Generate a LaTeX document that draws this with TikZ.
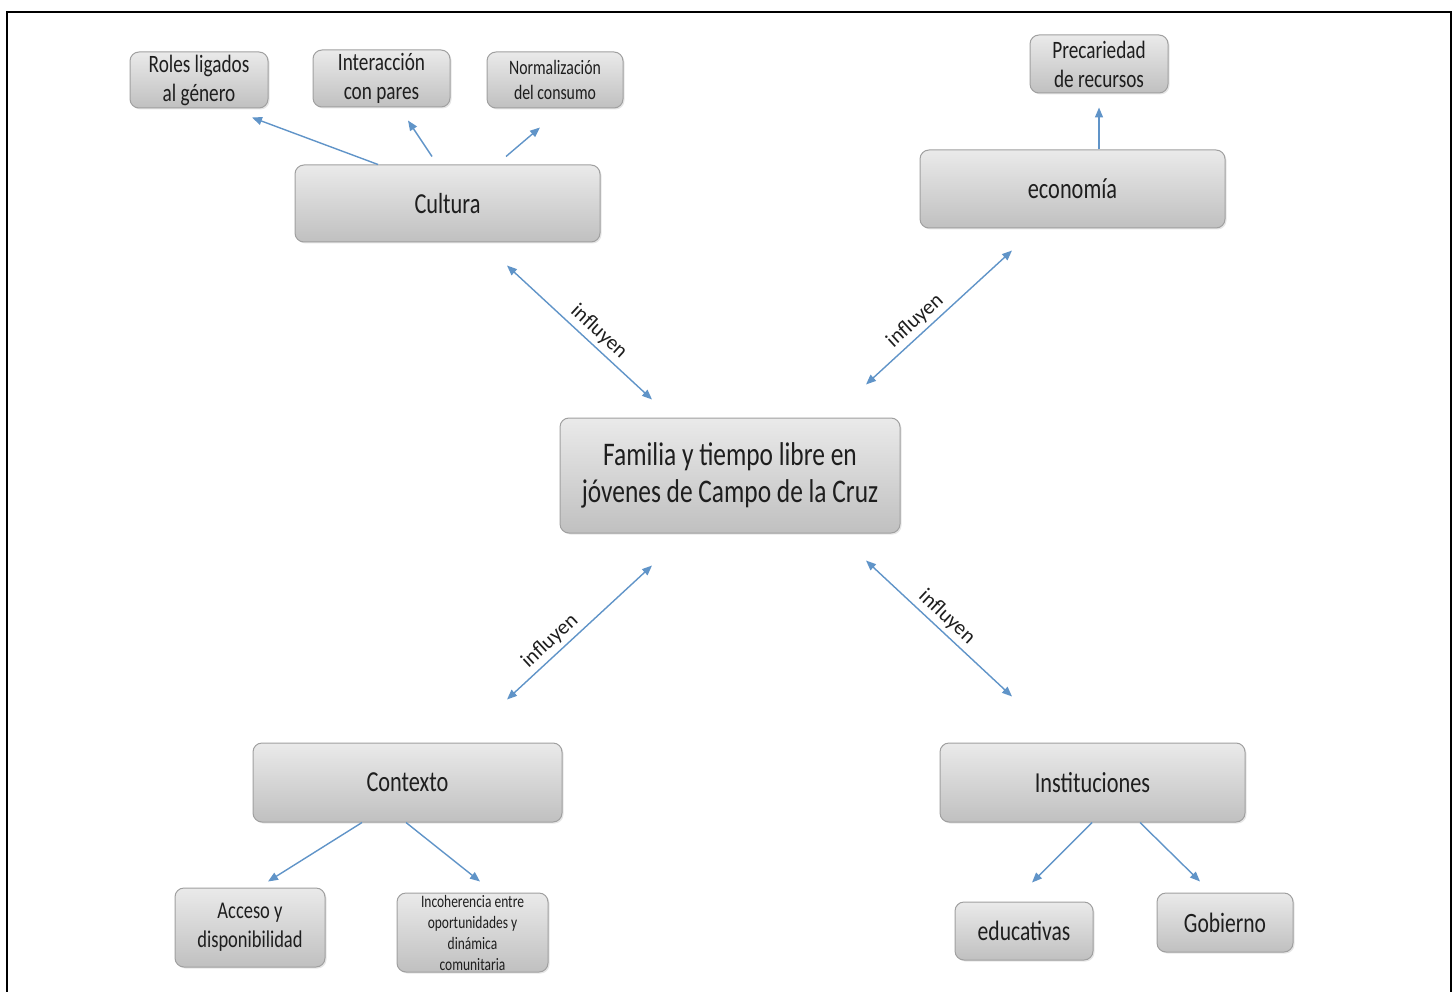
\documentclass[tikz,border=0pt]{standalone}
\usepackage{fontspec}
\setmainfont{Carlito}
\newfontfamily\cf[FakeStretch=0.77]{Carlito}
\usetikzlibrary{arrows.meta,shadows}
\definecolor{arrowblue}{RGB}{96,148,200}
\definecolor{boxborder}{RGB}{160,160,160}
\definecolor{boxtop}{RGB}{234,234,234}
\definecolor{boxbot}{RGB}{192,192,192}
\definecolor{txt}{RGB}{30,30,30}
\begin{document}
\begin{tikzpicture}[x=1pt,y=-1pt,
  box/.style={draw=boxborder, line width=1pt, rounded corners=9pt,
    top color=boxtop, bottom color=boxbot, inner sep=0pt, align=center,
    text=txt, drop shadow={shadow xshift=1.5pt, shadow yshift=-1.5pt, opacity=0.2}},
  fbig/.style={font=\cf\fontsize{29}{34}\selectfont},
  fmain/.style={font=\cf\fontsize{33}{37}\selectfont},
  fsmall/.style={font=\cf\fontsize{25}{29}\selectfont},
  arr/.style={draw=arrowblue, line width=1.4pt, -{Triangle[length=10pt,width=8pt]}},
  darr/.style={draw=arrowblue, line width=1.4pt, {Triangle[length=10pt,width=8pt]}-{Triangle[length=10pt,width=8pt]}},
  lab/.style={font=\fontsize{21}{24}\selectfont, text=txt, sloped, above, inner sep=4pt}
]
\useasboundingbox (0,0) rectangle (1455,992);
\draw[line width=2pt] (7,992) -- (7,12) -- (1451,12) -- (1451,992);

% main nodes
\node[box, fmain, minimum width=340pt, minimum height=115pt] (main) at (730,475.5)
  {Familia y tiempo libre en\\jóvenes de Campo de la Cruz};
\node[box, fbig, minimum width=305pt, minimum height=77pt] (cultura) at (447.5,203.5) {Cultura};
\node[box, fbig, minimum width=305pt, minimum height=78pt] (economia) at (1072.5,189) {economía};
\node[box, fbig, minimum width=309pt, minimum height=79pt] (contexto) at (407.5,782.5) {Contexto};
\node[box, fbig, minimum width=305pt, minimum height=79pt] (instit) at (1092.5,782.5) {Instituciones};

% small nodes
\node[box, fsmall, minimum width=138pt, minimum height=56pt] (roles) at (199,80) {Roles ligados\\al género};
\node[box, fsmall, minimum width=137pt, minimum height=57pt] (inter) at (381.5,78.5) {Interacción\\con pares};
\node[box, font=\cf\fontsize{20.5}{25}\selectfont, minimum width=136pt, minimum height=56pt] (norm) at (555,80) {Normalización\\del consumo};
\node[box, fsmall, minimum width=138pt, minimum height=58pt] (prec) at (1099,64) {Precariedad\\de recursos};
\node[box, font=\cf\fontsize{24}{29}\selectfont, minimum width=150pt, minimum height=79pt] (acceso) at (250,927.5) {Acceso y\\disponibilidad};
\node[box, font=\cf\fontsize{17.5}{21}\selectfont, minimum width=151pt, minimum height=79pt] (incoh) at (472.5,932.5) {Incoherencia entre\\oportunidades y\\dinámica\\comunitaria};
\node[box, font=\cf\fontsize{28}{32}\selectfont, minimum width=138pt, minimum height=58pt] (educ) at (1024,931) {educativas};
\node[box, font=\cf\fontsize{28}{32}\selectfont, minimum width=136pt, minimum height=59pt] (gob) at (1225,922.5) {Gobierno};

% main connectors
\draw[darr] ([shift={(59.5,23)}]cultura.south) -- ([shift={(-78,-18)}]main.north)
  node[lab, pos=0.57] {influyen};
\draw[darr] ([shift={(136,-33)}]main.north) -- ([shift={(-60.5,22)}]economia.south)
  node[lab, pos=0.4] {influyen};
\draw[darr] ([shift={(99.5,-43)}]contexto.north) -- ([shift={(-78,32)}]main.south)
  node[lab, pos=0.36] {influyen};
\draw[darr] ([shift={(136,27)}]main.south) -- ([shift={(-80.5,-46)}]instit.north)
  node[lab, pos=0.49] {influyen};

% sub connectors
\draw[arr] ([shift={(-69.5,0)}]cultura.north) -- ([shift={(53,9)}]roles.south);
\draw[arr] ([shift={(-15.5,-8)}]cultura.north) -- ([shift={(26.5,13)}]inter.south);
\draw[arr] ([shift={(58.5,-8)}]cultura.north) -- ([shift={(-15,19)}]norm.south);
\draw[arr] ([shift={(26.5,0)}]economia.north) -- ([shift={(0,14)}]prec.south);
\draw[arr] ([shift={(-45.5,0)}]contexto.south) -- ([shift={(18,-6)}]acceso.north);
\draw[arr] ([shift={(-1.5,0)}]contexto.south) -- ([shift={(7.5,-11)}]incoh.north);
\draw[arr] ([shift={(-0.5,0)}]instit.south) -- ([shift={(8,-19)}]educ.north);
\draw[arr] ([shift={(47.5,0)}]instit.south) -- ([shift={(-25,-11)}]gob.north);
\end{tikzpicture}
\end{document}
